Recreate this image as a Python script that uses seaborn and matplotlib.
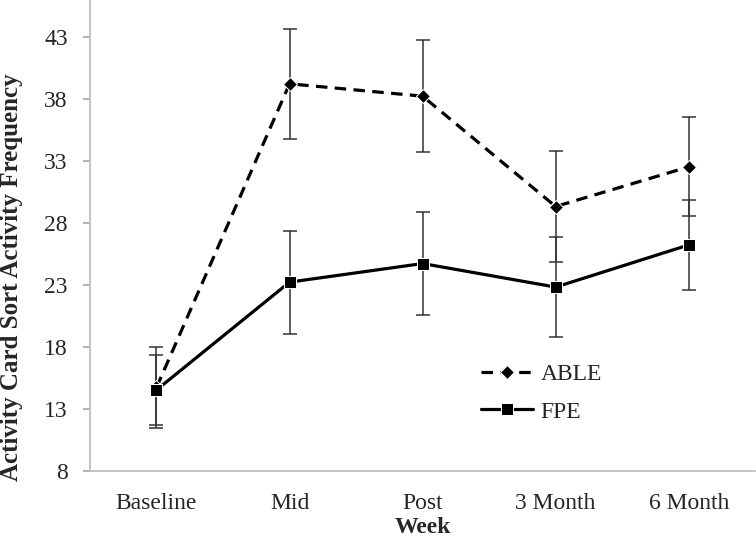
import pandas as pd
import matplotlib.pyplot as plt
import seaborn as sns

weeks = ['Baseline', 'Mid', 'Post', '3 Month', '6 Month']
able = [14.7, 39.2, 38.2, 29.3, 32.5]
able_err = [3.25, 4.45, 4.5, 4.5, 4.0]
fpe = [14.5, 23.2, 24.7, 22.8, 26.2]
fpe_err = [2.8, 4.15, 4.13, 4.05, 3.6]

sns.set_style("white")
plt.rcParams['font.family'] = ['Liberation Serif', 'DejaVu Serif']

df = pd.DataFrame({
    'Week': weeks * 2,
    'freq': able + fpe,
    'grupo': ['ABLE'] * 5 + ['FPE'] * 5,
})

fig = plt.figure(figsize=(7.56, 5.39), dpi=100)
ax = fig.add_axes([0.119, 0.127, 0.880, 0.873])

# barras de error primero, para que queden debajo de las lineas
ax.errorbar(range(5), able, yerr=able_err, fmt='none', ecolor='#333333',
            elinewidth=1.1, capsize=5, capthick=1.1, zorder=1)
ax.errorbar(range(5), fpe, yerr=fpe_err, fmt='none', ecolor='#333333',
            elinewidth=1.1, capsize=5, capthick=1.1, zorder=1)

sns.lineplot(data=df, x='Week', y='freq', hue='grupo', style='grupo',
             palette={'ABLE': 'black', 'FPE': 'black'},
             dashes={'ABLE': (3.6, 2.3), 'FPE': ''},
             markers={'ABLE': 'D', 'FPE': 's'},
             markersize=8, linewidth=2.3, errorbar=None, ax=ax, zorder=3)
for l in ax.lines:
    if l.get_marker() == 'D':
        l.set_markersize(7)

ax.set_xlim(-0.5, 4.5)
ax.set_ylim(8, 45.96)
ax.set_yticks([8, 13, 18, 23, 28, 33, 38, 43])
ax.set_xticks(range(5))
ax.set_xticks([-0.5, 0.5, 1.5, 2.5, 3.5, 4.5], minor=True)
ax.tick_params(axis='x', which='major', length=0, labelsize=17, pad=16)
ax.tick_params(axis='x', which='minor', length=6, color='#a6a6a6', width=1.2)
ax.tick_params(axis='y', length=5, color='#a6a6a6', width=1.2, labelsize=17, pad=11)
ax.tick_params(left=True, bottom=True)
for s in ['top', 'right']:
    ax.spines[s].set_visible(False)
for s in ['left', 'bottom']:
    ax.spines[s].set_color('#bfbfbf')
    ax.spines[s].set_linewidth(1.3)

ax.set_xlabel('Week', fontsize=17, fontweight='bold', labelpad=2.5)
ax.set_ylabel('Activity Card Sort Activity Frequency', fontsize=18, fontweight='bold')
ax.yaxis.set_label_coords(-0.1005, 0.41)

h, lab = ax.get_legend_handles_labels()
ax.legend(h, lab, loc='center left', bbox_to_anchor=(0.621, 1 - 393 / 539),
          bbox_transform=fig.transFigure, frameon=False, fontsize=17,
          handlelength=2.2, handletextpad=0.3, labelspacing=0.68, borderpad=0)

plt.savefig('out.png', dpi=100)
